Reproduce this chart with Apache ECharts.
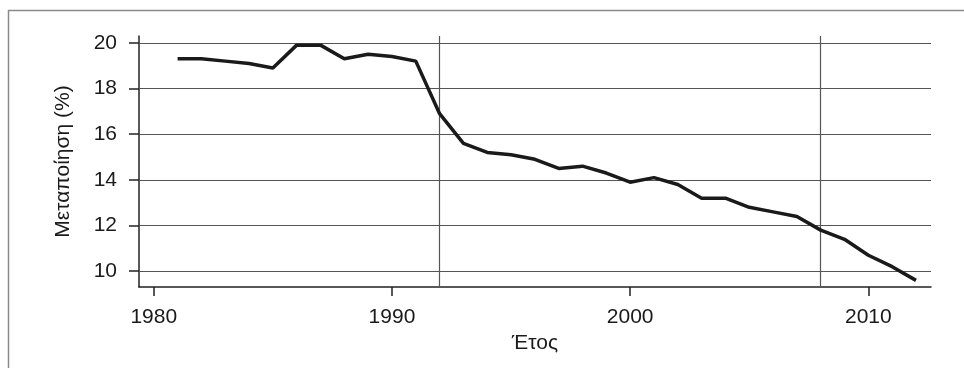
<!DOCTYPE html>
<html><head><meta charset="utf-8">
<script src="https://cdn.jsdelivr.net/npm/echarts@6/dist/echarts.min.js"></script>
<style>html,body{margin:0;padding:0;background:#fff}#c{width:964px;height:368px}</style>
</head><body><div id="c"></div>
<script>
const years = [1981,1982,1983,1984,1985,1986,1987,1988,1989,1990,1991,1992,1993,1994,1995,1996,1997,1998,1999,2000,2001,2002,2003,2004,2005,2006,2007,2008,2009,2010,2011,2012];
const values = [19.3,19.3,19.2,19.1,18.9,19.9,19.9,19.3,19.5,19.4,19.2,16.9,15.6,15.2,15.1,14.9,14.5,14.6,14.3,13.9,14.1,13.8,13.2,13.2,12.8,12.6,12.4,11.8,11.4,10.7,10.2,9.6];
const xTicks = [1980,1990,2000,2010];
const yTicks = [10,12,14,16,18,20];
const markerYears = [1992,2008];
const xName = 'Έτος';
const yName = 'Μεταποίηση (%)';

const chart = echarts.init(document.getElementById('c'));
const font = '"Liberation Sans", Arial, sans-serif';
chart.setOption({
  animation:false,
  graphic:[{type:'rect',shape:{x:8.5,y:10.5,width:1000,height:400},style:{fill:'none',stroke:'#8a8a8a',lineWidth:1.5},silent:true}],
  grid:{left:139,right:33,top:36,bottom:81},
  xAxis:{type:'value',min:1979.38,max:2012.63,
    name:xName,nameLocation:'middle',nameGap:46,nameTextStyle:{fontFamily:font,fontSize:21,color:'#1a1a1a'},
    axisLine:{onZero:false,lineStyle:{color:'#222',width:1.5}},
    axisTick:{show:true,length:9,customValues:xTicks,lineStyle:{color:'#222',width:1.5}},
    axisLabel:{customValues:xTicks,margin:20,fontFamily:font,fontSize:21,color:'#1a1a1a',formatter:v=>String(v)},
    splitLine:{show:false}},
  yAxis:{type:'value',min:9.31,max:20.3,
    name:yName,nameLocation:'middle',nameGap:65,nameTextStyle:{fontFamily:font,fontSize:21,color:'#1a1a1a'},
    axisLine:{show:true,onZero:false,lineStyle:{color:'#222',width:1.5}},
    axisTick:{show:true,length:10,customValues:yTicks,lineStyle:{color:'#222',width:1.5}},
    axisLabel:{customValues:yTicks,margin:22,fontFamily:font,fontSize:21,color:'#1a1a1a',formatter:v=>String(v)},
    splitLine:{show:false}},
  series:[{type:'line',data:years.map((y,i)=>[y,values[i]]),showSymbol:false,symbol:'none',
    lineStyle:{color:'#1a1a1a',width:3.5},z:5,
    markLine:{silent:true,symbol:'none',label:{show:false},z:1,
      lineStyle:{color:'#555',width:1.2,type:'solid'},
      data:[...markerYears.map(v=>({xAxis:v})),...yTicks.map(v=>({yAxis:v}))]}}]
});
</script></body></html>
